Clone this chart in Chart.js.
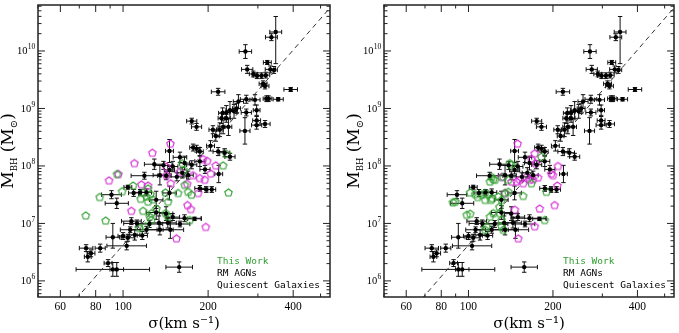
<!DOCTYPE html>
<html><head><meta charset="utf-8">
<script src="https://cdn.jsdelivr.net/npm/chart.js@4.4.0/dist/chart.umd.min.js"></script>
<style>
html,body{margin:0;padding:0;background:#fff;}
#wrap{position:relative;width:679px;height:333px;overflow:hidden;}
#c1{position:absolute;left:0;top:0;}
#c2{position:absolute;left:340px;top:0;}
</style></head><body>
<div id="wrap"><canvas id="c1" width="340" height="333"></canvas><canvas id="c2" width="339" height="333"></canvas></div>
<script>
// ---- tick labels ----
const xTickValues = [60, 80, 100, 200, 400];
const yTickValues = [1e6, 1e7, 1e8, 1e9, 1e10];
const yTickExponents = ['6', '7', '8', '9', '10'];
const legendLabels = ['This Work', 'RM AGNs', 'Quiescent Galaxies'];

// ---- fit line (M–sigma relation), endpoints ----
const fitSigma = [65, 560];
const fitLogM = [5.57, 10.84];

// ---- RM AGNs + quiescent galaxies (black, same in both panels) ----
const rmSigma = [347,335,271,324,275,289,298,309,320,332,342,313,318,217,392,273,293,322,327,354,
  256,252,239,247,232,225,273,297,223,232,175,182,226,236,270,297,297,318,208,220,
  213,177,182,187,204,217,229,239,146,159,129,139,146,150,162,165,175,187,195,218,
  119,135,142,155,170,187,197,206,104,91,109,115,121,146,95,131,131,142,150,165,
  107,112,124,134,144,159,179,106,121,135,147,92,100,104,110,117,103,74,75,77,
  83,88.5,92,95,158];
const rmLogM = [10.33,10.24,9.99,9.80,9.68,9.60,9.57,9.57,9.58,9.68,9.67,9.43,9.39,9.29,9.33,9.16,9.15,9.17,9.17,9.16,
  9.12,9.00,8.97,8.95,8.93,8.92,8.93,8.97,8.83,8.83,8.78,8.68,8.68,8.68,8.61,8.79,8.71,8.73,8.63,8.63,
  8.52,8.32,8.30,8.25,8.35,8.25,8.23,8.16,8.26,8.15,8.03,8.01,7.93,7.99,7.88,8.05,8.02,8.08,7.94,7.86,
  7.83,7.84,7.83,7.81,7.84,7.61,7.59,7.59,7.63,7.50,7.53,7.54,7.54,7.53,7.35,7.41,7.19,7.17,7.11,7.09,
  7.04,7.00,6.99,7.01,7.01,6.99,7.08,6.89,6.89,6.89,6.89,6.76,6.78,6.75,6.80,6.79,6.61,6.57,6.42,6.48,
  6.57,6.31,6.20,6.20,6.24];
const rmSigErr = [.021,.021,.022,.014,.02,.014,.014,.014,.014,.018,.012,.014,.014,.024,.024,.021,.018,.012,.012,.018,
  .018,.014,.014,.012,.012,.014,.018,.012,.012,.014,.018,.018,.018,.012,.018,.014,.018,.018,.014,.012,
  .012,.012,.012,.012,.014,.018,.018,.018,.014,.024,.035,.03,.018,.018,.018,.018,.018,.018,.018,.014,
  .047,.024,.018,.035,.018,.018,.018,.014,.014,.035,.018,.024,.018,.024,.041,.024,.035,.024,.024,.059,
  .035,.047,.047,.035,.03,.035,.024,.035,.059,.047,.047,.024,.018,.024,.018,.018,.07,.024,.012,.014,
  .018,.014,.13,.024,.047];
const rmMErrLo = [.55,.06,.12,.035,.07,.05,.05,.05,.05,.06,.06,.05,.05,.06,.035,.07,.09,.05,.05,.03,
  .12,.09,.15,.12,.12,.09,.06,.09,.09,.07,.05,.06,.12,.15,.23,.07,.07,.06,.07,.12,
  .09,.06,.06,.07,.09,.07,.07,.06,.2,.09,.09,.07,.07,.09,.09,.12,.07,.09,.07,.15,
  .06,.17,.07,.07,.07,.05,.05,.05,.035,.07,.06,.05,.06,.12,.09,.15,.12,.12,.06,.06,
  .06,.06,.06,.12,.09,.05,.03,.05,.06,.09,.15,.19,.06,.06,.09,.07,.07,.06,.09,.06,
  .07,.06,.12,.12,.09];
const rmMErrHi = [.27,.06,.12,.035,.07,.05,.05,.05,.05,.06,.06,.05,.05,.06,.035,.07,.09,.05,.05,.03,
  .12,.09,.15,.12,.12,.09,.06,.09,.09,.07,.05,.06,.12,.15,.23,.07,.07,.06,.07,.12,
  .09,.06,.06,.07,.09,.07,.07,.06,.2,.09,.09,.07,.07,.09,.09,.12,.07,.09,.07,.15,
  .06,.17,.07,.07,.07,.05,.05,.05,.035,.07,.06,.05,.06,.12,.09,.15,.12,.12,.06,.06,
  .06,.06,.06,.12,.09,.05,.03,.05,.06,.09,.15,.24,.06,.06,.09,.07,.07,.06,.09,.06,
  .07,.06,.12,.12,.09];

// ---- This Work (green), left panel ----
const twSigmaL = [73.8,82.7,86.8,95.2,99.2,108.5,115.5,117.7,117.7,121,122.6,124.3,126,125,127.7,114,120,141.2,144.3,141.5,
  144.3,131.2,162.3,164,165.4,169.9,172.2,174.6,156.6,232.3,226,236.1,126,122.6];
const twLogML = [7.14,7.46,7.05,7.86,7.56,7.66,7.43,7.22,7.54,7.47,7.38,7.12,7.06,7.51,7.42,6.92,6.95,7.54,7.38,7.18,
  7.12,7.26,8.05,7.93,7.67,7.55,7.06,7.50,7.53,8.21,8.01,7.54,7.18,7.61];
// ---- second sample (magenta), left panel ----
const mgSigmaL = [89.2,96.3,109.7,127,147.1,116.1,122.6,107,142.4,158.8,154.5,196.2,169,173.7,184.3,192,198.4,212.9,204.4,194.6,
  177,168.6,142.4,147.5,186.9];
const mgLogML = [7.75,7.86,8.05,8.23,8.39,7.68,7.66,7.22,7.84,7.90,6.74,6.94,7.32,7.25,7.53,8.12,8.09,8.01,7.87,7.76,
  7.84,7.69,7.99,7.70,7.79];

// ---- This Work (green), right panel ----
const twSigmaR = [88,89.7,98.6,101.4,101.4,105.6,107.9,111.5,114.6,117.7,121.6,120.3,122.6,121,119.3,124.3,127.7,131.2,128.8,129.4,
  131.2,131.2,133,116.1,114.6,119.3,122.6,134.9,138.6,138.6,140.5,142.4,133,156.6,167.6,181.8,189.5,186.9,114.6];
const twLogMR = [7.37,7.38,7.15,7.17,7.54,7.51,7.46,7.50,7.53,7.51,7.44,7.41,7.77,7.81,7.73,7.76,7.47,7.41,7.29,7.18,
  7.06,6.95,6.89,6.95,6.89,7.12,7.18,7.53,7.55,7.76,8.05,8.02,7.81,7.48,7.70,8.16,7.55,7.06,7.41];
// ---- second sample (magenta), right panel ----
const mgSigmaR = [149.6,172.2,167.6,173.2,208.4,197.3,200,177,169.9,165.4,161,152.4,148.3,142.4,131.2,156.6,179.4,202.8,150.4,172.2,
  207.3,134.9,146.3];
const mgLogMR = [8.39,8.22,8.12,8.05,8.00,7.87,7.84,7.80,7.77,7.76,7.81,7.76,7.73,7.73,7.81,7.70,7.26,7.32,6.74,6.95,
  7.66,7.53,7.24];

const GREEN = '#2f9e2f';
const MAGENTA = '#d62ad6';

function pentagon(color) {
  const c = document.createElement('canvas');
  c.width = 11; c.height = 11;
  const g = c.getContext('2d');
  g.strokeStyle = color; g.lineWidth = 1.1;
  g.beginPath();
  for (let i = 0; i < 5; i++) {
    const a = -Math.PI / 2 + i * 2 * Math.PI / 5;
    const x = 5.5 + 3.9 * Math.cos(a), y = 5.9 + 3.9 * Math.sin(a);
    if (i) g.lineTo(x, y); else g.moveTo(x, y);
  }
  g.closePath(); g.stroke();
  return c;
}

function pts(sig, logm) { return sig.map((s, i) => ({ x: s, y: Math.pow(10, logm[i]) })); }

const errorBarPlugin = {
  id: 'errorBars',
  beforeDatasetsDraw(chart) {
    const ctx = chart.ctx, xs = chart.scales.x, ys = chart.scales.y, a = chart.chartArea;
    ctx.save();
    ctx.beginPath(); ctx.rect(a.left, a.top, a.right - a.left, a.bottom - a.top); ctx.clip();
    ctx.strokeStyle = '#111'; ctx.lineWidth = 1;
    const cap = 2.2;
    for (let i = 0; i < rmSigma.length; i++) {
      const ls = Math.log10(rmSigma[i]);
      const px = xs.getPixelForValue(rmSigma[i]);
      const py = ys.getPixelForValue(Math.pow(10, rmLogM[i]));
      const x1 = xs.getPixelForValue(Math.pow(10, ls - rmSigErr[i]));
      const x2 = xs.getPixelForValue(Math.pow(10, ls + rmSigErr[i]));
      const y1 = ys.getPixelForValue(Math.pow(10, rmLogM[i] - rmMErrLo[i]));
      const y2 = ys.getPixelForValue(Math.pow(10, rmLogM[i] + rmMErrHi[i]));
      ctx.beginPath();
      ctx.moveTo(x1, py); ctx.lineTo(x2, py);
      ctx.moveTo(x1, py - cap); ctx.lineTo(x1, py + cap);
      ctx.moveTo(x2, py - cap); ctx.lineTo(x2, py + cap);
      ctx.moveTo(px, y1); ctx.lineTo(px, y2);
      ctx.moveTo(px - cap, y1); ctx.lineTo(px + cap, y1);
      ctx.moveTo(px - cap, y2); ctx.lineTo(px + cap, y2);
      ctx.stroke();
    }
    ctx.restore();
  }
};

const framePlugin = {
  id: 'frame',
  afterDraw(chart) {
    const ctx = chart.ctx, xs = chart.scales.x, ys = chart.scales.y, a = chart.chartArea;
    ctx.save();
    ctx.strokeStyle = '#222'; ctx.lineWidth = 1.5;
    ctx.strokeRect(a.left, a.top, a.right - a.left, a.bottom - a.top);
    ctx.lineWidth = 1;
    ctx.beginPath();
    // y ticks
    for (let e = 5; e <= 10; e++) {
      for (let k = 1; k <= 9; k++) {
        const v = k * Math.pow(10, e);
        const p = ys.getPixelForValue(v);
        if (p < a.top || p > a.bottom) continue;
        const L = k === 1 ? 7 : 3.5;
        ctx.moveTo(a.left, p); ctx.lineTo(a.left + L, p);
        ctx.moveTo(a.right, p); ctx.lineTo(a.right - L, p);
      }
    }
    // x ticks
    const xt = [50, 60, 70, 80, 90, 100, 200, 300, 400, 500];
    xt.forEach(v => {
      const p = xs.getPixelForValue(v);
      if (p < a.left || p > a.right) return;
      const L = xTickValues.includes(v) ? 7 : 3.5;
      ctx.moveTo(p, a.bottom); ctx.lineTo(p, a.bottom - L);
      ctx.moveTo(p, a.top); ctx.lineTo(p, a.top + L);
    });
    ctx.stroke();

    // y tick labels: 10 with raised exponent
    ctx.fillStyle = '#000';
    ctx.textBaseline = 'alphabetic';
    const baseFont = '10.5px "Liberation Serif"', expFont = '7.5px "Liberation Serif"';
    yTickValues.forEach((v, i) => {
      const p = ys.getPixelForValue(v);
      ctx.font = baseFont; const w1 = ctx.measureText('10').width;
      ctx.font = expFont; const w2 = ctx.measureText(yTickExponents[i]).width;
      const x0 = a.left - 3 - w1 - w2;
      ctx.font = baseFont; ctx.fillText('10', x0, p + 3.5);
      ctx.font = expFont; ctx.fillText(yTickExponents[i], x0 + w1 + 0.3, p - 1.5);
    });

    // y-axis title with subscripts
    const yc = (a.top + a.bottom) / 2;
    const parts = [
      ['M', '17px "DejaVu Serif"', 0],
      ['BH', '8.5px "DejaVu Serif"', 3.5],
      [' (M', '17px "DejaVu Serif"', 0],
      ['⊙', '10px "DejaVu Serif"', 3.5],
      [')', '17px "DejaVu Serif"', 0]
    ];
    let total = 0;
    parts.forEach(p => { ctx.font = p[1]; total += ctx.measureText(p[0]).width; });
    ctx.translate(a.left - 25, yc);
    ctx.rotate(-Math.PI / 2);
    let x = -total / 2;
    parts.forEach(p => { ctx.font = p[1]; ctx.fillText(p[0], x, p[2]); x += ctx.measureText(p[0]).width; });
    ctx.restore();

    // legend text
    ctx.save();
    ctx.font = '9.5px "DejaVu Sans Mono"';
    ctx.textBaseline = 'alphabetic';
    const lx = a.left + 179;
    const colors = [GREEN, '#000', '#000'];
    const base = [264, 276, 287.5];
    legendLabels.forEach((t, i) => { ctx.fillStyle = colors[i]; ctx.fillText(t, lx, base[i]); });
    ctx.restore();
  }
};

function makeChart(id, twS, twM, mgS, mgM, yWidth, padRight) {
  const pg = pentagon(GREEN), pm = pentagon(MAGENTA);
  return new Chart(document.getElementById(id), {
    type: 'scatter',
    data: {
      datasets: [
        { type: 'line', label: 'fit', data: pts(fitSigma, fitLogM), borderColor: '#333', borderWidth: 1,
          borderDash: [5, 4], pointRadius: 0, fill: false, order: 4 },
        { label: 'Quiescent', data: pts(mgS, mgM), pointStyle: pm, pointRadius: 4, order: 3 },
        { label: 'This Work', data: pts(twS, twM), pointStyle: pg, pointRadius: 4, order: 2 },
        { label: 'RM AGNs', data: pts(rmSigma, rmLogM), pointStyle: 'circle', pointRadius: 2.2,
          backgroundColor: '#000', borderColor: '#000', borderWidth: 0, order: 1 }
      ]
    },
    options: {
      responsive: false, animation: false, events: [],
      layout: { padding: { top: 5, right: padRight, left: 0, bottom: 0 } },
      plugins: { legend: { display: false }, tooltip: { enabled: false } },
      scales: {
        x: {
          type: 'logarithmic', min: 50, max: 540,
          afterBuildTicks: s => { s.ticks = xTickValues.map(v => ({ value: v })); },
          afterFit: s => { s.height = 36; },
          ticks: { callback: v => String(v), font: { family: 'Liberation Serif', size: 11.5 }, color: '#000',
            padding: 3, maxRotation: 0, autoSkip: false },
          grid: { display: false, drawTicks: false }, border: { display: false },
          title: { display: true, text: 'σ(km s⁻¹)', font: { family: 'DejaVu Serif', size: 15 }, color: '#000',
            padding: { top: 0, bottom: 0 } }
        },
        y: {
          type: 'logarithmic', min: Math.pow(10, 5.72), max: Math.pow(10, 10.8),
          afterBuildTicks: s => { s.ticks = yTickValues.map(v => ({ value: v })); },
          afterFit: s => { s.width = yWidth; },
          ticks: { display: false },
          grid: { display: false, drawTicks: false }, border: { display: false }
        }
      }
    },
    plugins: [errorBarPlugin, framePlugin]
  });
}

makeChart('c1', twSigmaL, twLogML, mgSigmaL, mgLogML, 38, 10);
makeChart('c2', twSigmaR, twLogMR, mgSigmaR, mgLogMR, 44, 4);
</script>
</body></html>
